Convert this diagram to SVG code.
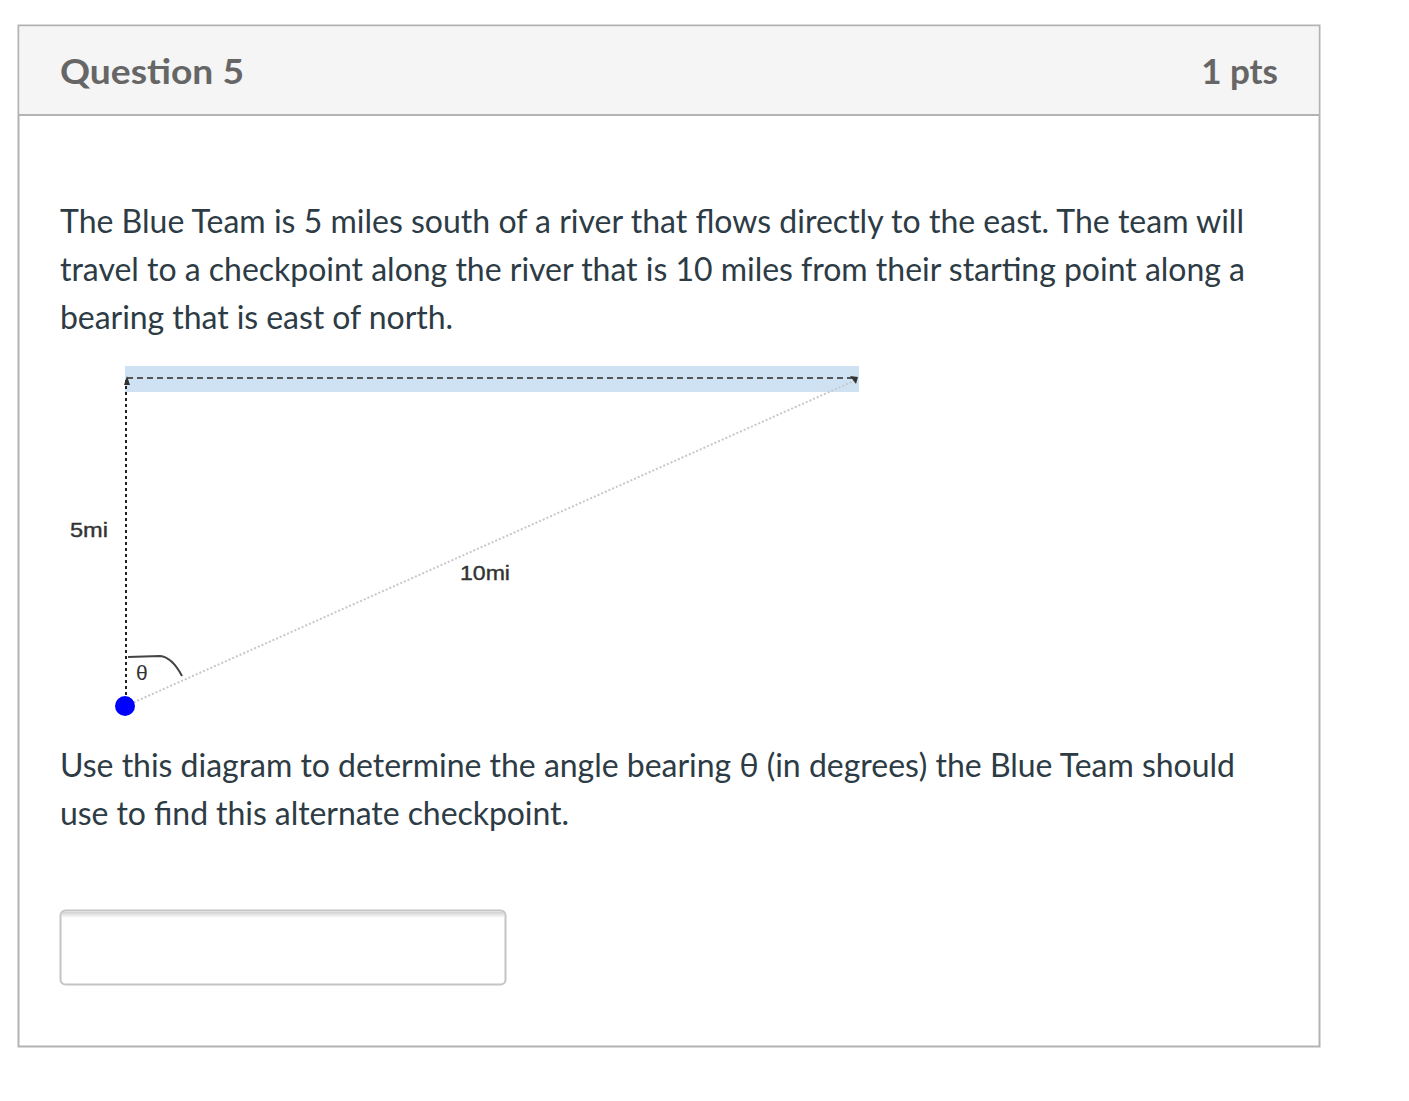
<svg xmlns="http://www.w3.org/2000/svg" width="1409" height="1101" viewBox="0 0 1409 1101">
<style>
.body{font-family:Lato,"Open Sans",sans-serif;font-size:32px;fill:#2d3b45}
.hdr{font-family:Lato,"Open Sans",sans-serif;font-size:35px;font-weight:bold;fill:#666}
.lbl{font-family:"Liberation Sans",Arial,sans-serif;font-size:21px;fill:#333}
</style>
<defs>
<linearGradient id="sh" x1="0" y1="0" x2="0" y2="1">
<stop offset="0" stop-color="#d0d0d0"/><stop offset="1" stop-color="#ffffff"/>
</linearGradient>
</defs>
<rect width="1409" height="1101" fill="#fff"/>
<g id="card">
<rect x="18.5" y="25.5" width="1301" height="1021" fill="#fff" stroke="#b3b3b3" stroke-width="2"/>
<rect x="19.5" y="26.5" width="1299" height="88" fill="#f5f5f5"/>
<line x1="18" y1="115" x2="1320" y2="115" stroke="#b3b3b3" stroke-width="2"/>
<text class="hdr" x="60" y="84" textLength="184" lengthAdjust="spacingAndGlyphs">Question 5</text>
<text class="hdr" x="1278" y="84" text-anchor="end" font-size="33">1 pts</text>
</g>
<g id="question">
<text class="body" x="60" y="233" textLength="1184">The Blue Team is 5 miles south of a river that flows directly to the east. The team will</text>
<text class="body" x="60" y="281" textLength="1185">travel to a checkpoint along the river that is 10 miles from their starting point along a</text>
<text class="body" x="60" y="329" textLength="393">bearing that is east of north.</text>
<text class="body" x="60" y="777" textLength="1175">Use this diagram to determine the angle bearing θ (in degrees) the Blue Team should</text>
<text class="body" x="60" y="825" textLength="509">use to find this alternate checkpoint.</text>
</g>
<g id="river">
<rect x="125" y="366" width="734" height="26" fill="#cfe2f3"/>
</g>
<g id="connectors">
<line x1="127" y1="378" x2="855" y2="378" stroke="#555" stroke-width="2" stroke-dasharray="6,4"/>
<line x1="126" y1="380" x2="126" y2="700" stroke="#222" stroke-width="2" stroke-dasharray="3,3"/>
<line x1="130" y1="704" x2="856" y2="380" stroke="#c8c8c8" stroke-width="2" stroke-dasharray="2,2"/>
<path d="M124,385 L127,376 L130,385 Z" fill="#333"/>
<path d="M850,376 L858,377 L856,384 Z" fill="#333"/>
<path d="M128,657 L160,656 Q172,657 182,676" fill="none" stroke="#444" stroke-width="2"/>
</g>
<g id="start">
<circle cx="125" cy="706" r="10" fill="#0000ff"/>
</g>
<g id="labels">
<text class="lbl" x="70" y="537" textLength="38" lengthAdjust="spacingAndGlyphs" stroke="#333" stroke-width="0.4">5mi</text>
<text class="lbl" x="460" y="580" textLength="50" lengthAdjust="spacingAndGlyphs" stroke="#333" stroke-width="0.4">10mi</text>
<text class="lbl" x="136" y="680" font-size="16">θ</text>
</g>
<g id="input">
<rect x="60.5" y="910.5" width="445" height="74" rx="5" fill="#fff" stroke="#c4c4c4" stroke-width="2"/>
<rect x="62" y="912" width="442" height="6" fill="url(#sh)"/>
</g>
</svg>
